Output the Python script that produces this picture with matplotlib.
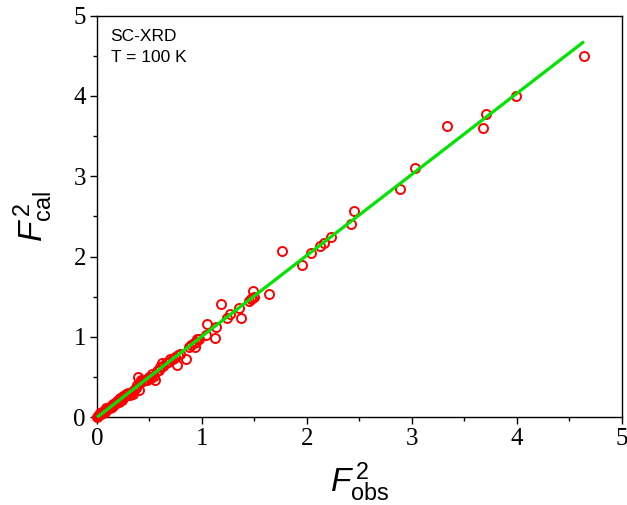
import matplotlib
matplotlib.use("Agg")
import matplotlib.pyplot as plt
from matplotlib.ticker import MultipleLocator

# Data
f_obs = [0.00, 0.01, 0.02, 0.03, 0.04, 0.05, 0.06, 0.07, 0.08, 0.09, 0.10, 0.11,
         0.12, 0.13, 0.14, 0.155, 0.17, 0.18, 0.20, 0.21, 0.22, 0.23, 0.24, 0.25,
         0.26, 0.27, 0.28, 0.30, 0.31, 0.33, 0.34, 0.35, 0.37, 0.38, 0.39, 0.40,
         0.41, 0.42, 0.44, 0.46, 0.48, 0.50, 0.51, 0.52, 0.54, 0.55, 0.57, 0.59,
         0.60, 0.615, 0.63, 0.66, 0.68, 0.70, 0.72, 0.74, 0.765, 0.77, 0.79, 0.85,
         0.88, 0.90, 0.92, 0.93, 0.94, 0.95, 0.97, 1.04, 1.05, 1.12, 1.13, 1.18,
         1.235, 1.27, 1.355, 1.37, 1.45, 1.47, 1.48, 1.49, 1.50, 1.635, 1.765,
         1.95, 2.04, 2.12, 2.165, 2.23, 2.42, 2.45, 2.89, 3.03, 3.33, 3.68, 3.71,
         3.99, 4.64]
f_cal = [0.00, 0.01, 0.03, 0.05, 0.04, 0.06, 0.05, 0.08, 0.07, 0.11, 0.10, 0.12,
         0.11, 0.14, 0.13, 0.17, 0.16, 0.19, 0.21, 0.19, 0.24, 0.23, 0.22, 0.27,
         0.25, 0.26, 0.29, 0.30, 0.28, 0.32, 0.29, 0.34, 0.36, 0.40, 0.50, 0.34,
         0.44, 0.46, 0.45, 0.47, 0.47, 0.50, 0.49, 0.54, 0.52, 0.46, 0.58, 0.59,
         0.63, 0.67, 0.64, 0.67, 0.69, 0.73, 0.72, 0.75, 0.65, 0.77, 0.79, 0.73,
         0.88, 0.90, 0.92, 0.87, 0.94, 0.97, 0.98, 1.02, 1.16, 0.99, 1.12, 1.41,
         1.24, 1.28, 1.36, 1.24, 1.45, 1.47, 1.48, 1.57, 1.50, 1.54, 2.07,
         1.90, 2.05, 2.13, 2.17, 2.24, 2.41, 2.57, 2.84, 3.10, 3.63, 3.60, 3.78,
         4.00, 4.50]

fit_x = [0.0, 4.64]
fit_slope = 1.008

x_ticks = [0, 1, 2, 3, 4, 5]
y_ticks = [0, 1, 2, 3, 4, 5]

plt.rcParams['mathtext.fontset'] = 'custom'
plt.rcParams['mathtext.rm'] = 'Liberation Sans'
plt.rcParams['mathtext.it'] = 'Liberation Sans:italic'

fig = plt.figure(figsize=(6.27, 5.05), dpi=100)
ax = fig.add_axes([0.1547, 0.1737, 0.837, 0.7953])

ax.plot(f_obs, f_cal, 'o', mfc='none', mec='#ff0000', ms=6.5, mew=1.4, zorder=2,
        clip_on=False)
ax.plot(fit_x, [fit_slope * v for v in fit_x], '-', color='#00e400', lw=2.3, zorder=3,
        solid_capstyle='butt', clip_on=False)

ax.set_xlim(0, 5)
ax.set_ylim(0, 5)
ax.set_xticks(x_ticks)
ax.set_yticks(y_ticks)
ax.xaxis.set_minor_locator(MultipleLocator(0.5))
ax.yaxis.set_minor_locator(MultipleLocator(0.5))
ax.tick_params(which='major', direction='out', length=5, width=1, labelsize=18,
               top=False, right=False, pad=3)
ax.tick_params(which='minor', direction='out', length=3, width=1, top=False, right=False)
for lbl in ax.get_xticklabels() + ax.get_yticklabels():
    lbl.set_fontfamily('Liberation Serif')
for s in ax.spines.values():
    s.set_linewidth(1.0)
    s.set_zorder(1)

ax.set_xlabel(r'$F^{\,2}_{\mathrm{obs}}$', fontsize=24, labelpad=7)
ax.set_ylabel(r'$F^{\,2}_{\mathrm{cal}}$', fontsize=24, labelpad=13)

ax.text(0.026, 0.968, 'SC-XRD\nT = 100 K', transform=ax.transAxes, ha='left', va='top',
        fontsize=12.5, family='Liberation Sans', linespacing=1.5)

fig.savefig('out.png', dpi=100)
